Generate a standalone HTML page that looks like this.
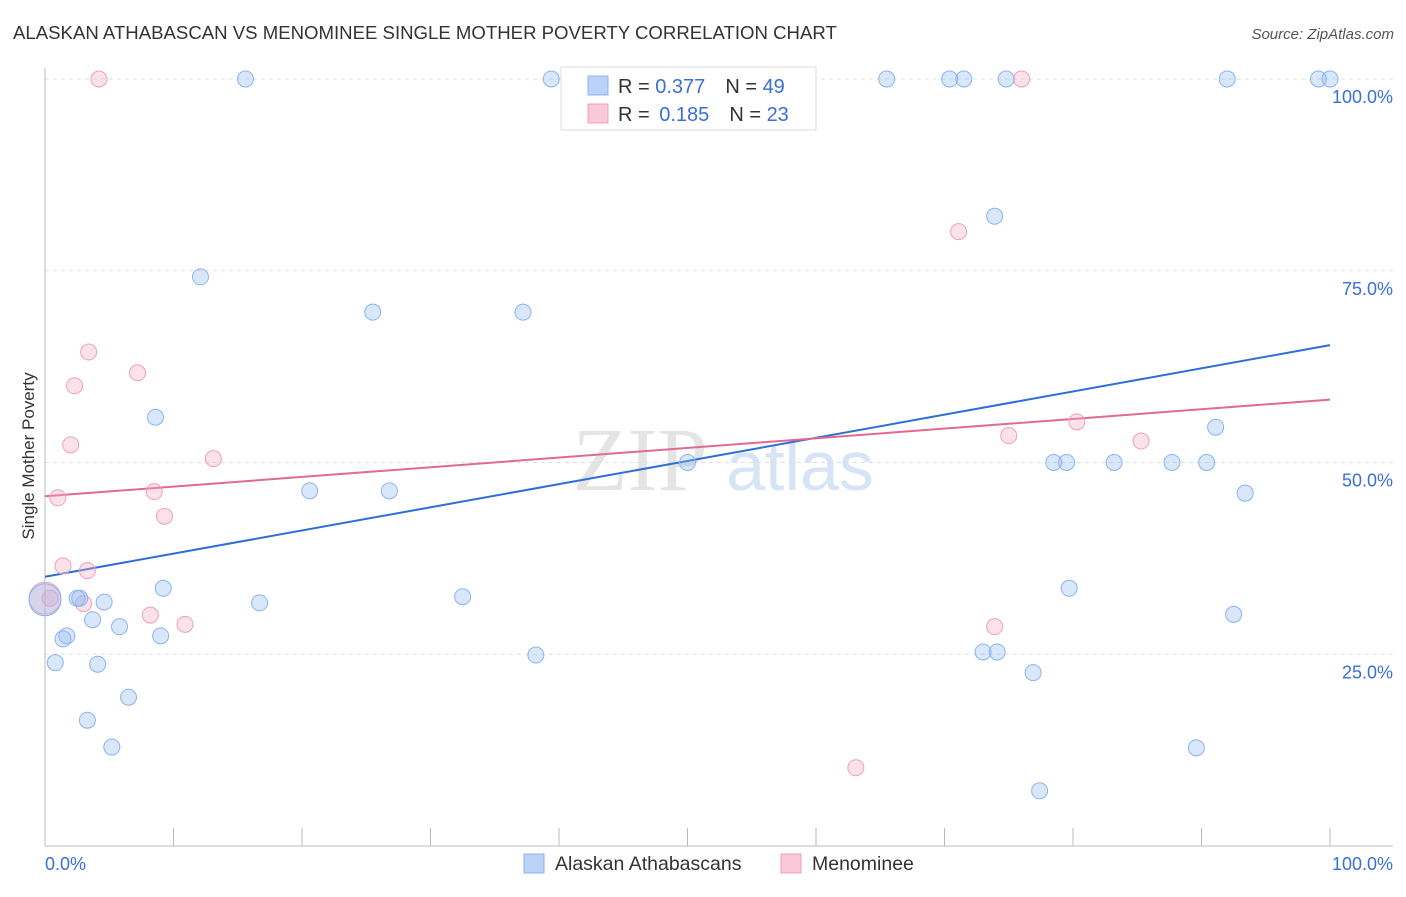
<!DOCTYPE html>
<html><head><meta charset="utf-8"><style>
body{margin:0;background:#fff;font-family:"Liberation Sans",sans-serif}
</style></head><body>
<svg id="chart" width="1406" height="892" xmlns="http://www.w3.org/2000/svg" font-family="Liberation Sans, sans-serif">
<text x="13" y="39" font-size="18.6" fill="#333">ALASKAN ATHABASCAN VS MENOMINEE SINGLE MOTHER POVERTY CORRELATION CHART</text>
<text x="1394" y="39" font-size="15" fill="#555" font-style="italic" text-anchor="end">Source: ZipAtlas.com</text>
<text transform="translate(34,456) rotate(-90)" font-size="17" fill="#333" text-anchor="middle">Single Mother Poverty</text>
<g font-size="90" text-anchor="middle">
<text x="640" y="490" fill="#e4e4e4" font-family="Liberation Serif, serif">ZIP</text>
<text x="800" y="490" fill="#d6e4f5" font-size="70">atlas</text></g>
<g id="grid"></g><g id="axes"></g><g id="lines"></g><g id="pts"></g>
<g>
<rect x="561" y="67" width="255" height="63" fill="#fff" stroke="#ddd"/>
<rect x="588" y="76" width="20" height="19" fill="#b9d2f5" stroke="#8ab4f0"/>
<rect x="588" y="104" width="20" height="19" fill="#f9c9d8" stroke="#f0a0b8"/>
<text x="618" y="93" font-size="20" fill="#333">R = <tspan fill="#3a6fd8">0.377</tspan><tspan dx="20">N = </tspan><tspan fill="#3a6fd8">49</tspan></text>
<text x="618" y="121" font-size="20" fill="#333">R = <tspan dx="4" fill="#3a6fd8">0.185</tspan><tspan dx="20">N = </tspan><tspan fill="#3a6fd8">23</tspan></text>
</g>
<g>
<rect x="524" y="854" width="20" height="19" fill="#b9d2f5" stroke="#8ab4f0"/>
<text x="555" y="870" font-size="19.5" fill="#333">Alaskan Athabascans</text>
<rect x="781" y="854" width="20" height="19" fill="#f9c9d8" stroke="#f0a0b8"/>
<text x="812" y="870" font-size="19.5" fill="#333">Menominee</text>
</g>
</svg>
<script>
const blueX=[15.6,39.4,65.5,70.4,71.5,74.8,92.0,99.1,100,73.9,12.1,25.5,37.2,8.6,91.1,50.0,78.5,79.5,83.2,87.7,90.4,20.6,26.8,93.4,9.2,79.7,32.5,2.5,2.7,4.6,16.7,92.5,3.7,5.8,1.7,1.4,9.0,73.0,74.1,38.2,0.8,4.1,76.9,6.5,3.3,5.2,89.6,77.4,0];
const blueY=[100,100,100,100,100,100,100,100,100,82.1,74.2,69.6,69.6,55.9,54.6,50,50,50,50,50,50,46.3,46.3,46.0,33.6,33.6,32.5,32.3,32.3,31.8,31.7,30.2,29.5,28.6,27.4,27.0,27.4,25.3,25.3,24.9,23.9,23.7,22.6,19.4,16.4,12.9,12.8,7.2,32.1];
const pinkX=[4.2,76.0,71.1,3.4,7.2,2.3,2.0,80.3,75.0,85.3,13.1,1.0,8.5,9.3,1.4,3.3,3.0,8.2,10.9,73.9,63.1,0.4,0];
const pinkY=[100,100,80.1,64.4,61.7,60.0,52.3,55.3,53.5,52.8,50.5,45.4,46.2,43.0,36.5,35.9,31.6,30.1,28.9,28.6,10.2,32.3,32.3];
const blueTrend=[35.1,65.3];
const pinkTrend=[45.6,58.2];
const yTicks=[25,50,75,100];
const yTickLabels=["25.0%","50.0%","75.0%","100.0%"];
const NS="http://www.w3.org/2000/svg";
const sx=v=>45+v*12.85, sy=v=>846-v*7.67;
function mk(tag,attrs,parent){const e=document.createElementNS(NS,tag);for(const k in attrs)e.setAttribute(k,attrs[k]);document.getElementById(parent).appendChild(e);return e;}
yTicks.forEach((t,i)=>{
 const g=mk('line',{x1:45,x2:1393,y1:sy(t),y2:sy(t),stroke:'#ddd','stroke-dasharray':'4,4'},'grid');
 
 
 const l=mk('text',{x:1393,y:sy(t)+24,'font-size':18,fill:'#3a6fd8','text-anchor':'end'},'grid');
 l.textContent=yTickLabels[i];
 
 
});
const xa=mk('line',{x1:45,x2:1393,y1:846,y2:846,stroke:'#bbb'},'axes');


const ya=mk('line',{x1:45,x2:45,y1:68,y2:846,stroke:'#bbb'},'axes');


for(let i=1;i<=10;i++){const t=mk('line',{x1:sx(i*10),x2:sx(i*10),y1:828,y2:846,stroke:'#bbb'},'axes');
 
 }
const x0=mk('text',{x:45,y:870,'font-size':18,fill:'#3a6fd8'},'axes');x0.textContent='0.0%';


const x1=mk('text',{x:1393,y:870,'font-size':18,fill:'#3a6fd8','text-anchor':'end'},'axes');x1.textContent='100.0%';


function pts(X,Y,fill,stroke,name){X.forEach((x,i)=>{const big=x===0;
 const c=mk('circle',{cx:sx(x),cy:sy(Y[i]),r:big?16:8,fill:fill,stroke:stroke,'stroke-width':1},'pts');
 
 });}
pts(pinkX,pinkY,'rgba(244,170,195,0.35)','#f0a0b8','menominee-point');
pts(blueX,blueY,'rgba(147,187,240,0.35)','#8ab4f0','athabascan-point');
const bl=mk('line',{x1:sx(0),y1:sy(blueTrend[0]),x2:sx(100),y2:sy(blueTrend[1]),stroke:'#2d6fd6','stroke-width':2},'lines');


const pl=mk('line',{x1:sx(0),y1:sy(pinkTrend[0]),x2:sx(100),y2:sy(pinkTrend[1]),stroke:'#e06a92','stroke-width':2},'lines');


</script>
</body></html>
